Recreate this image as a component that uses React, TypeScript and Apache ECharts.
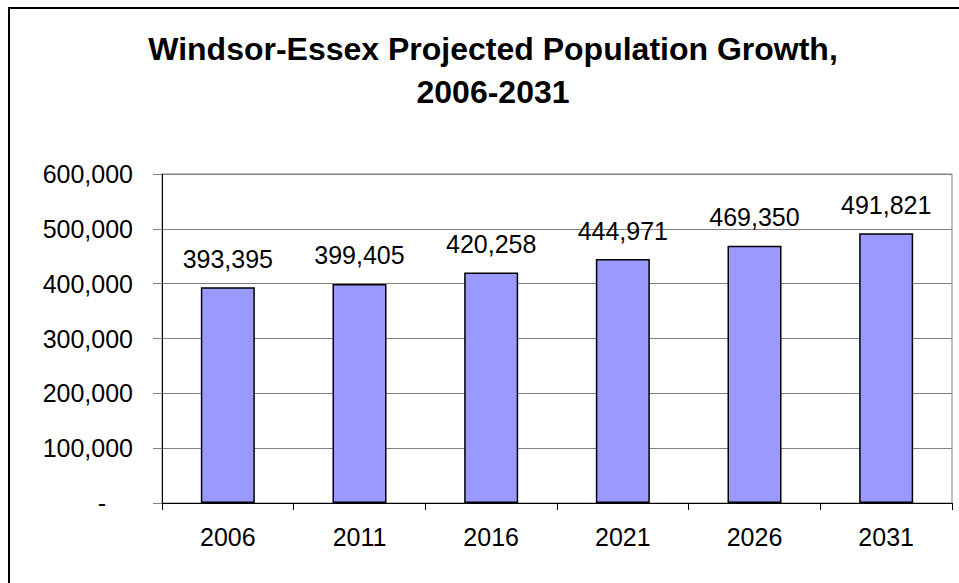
import React, { useEffect, useRef } from "react";
import * as echarts from "echarts";

const titleLines = ["Windsor-Essex Projected Population Growth,", "2006-2031"];
const years = ["2006", "2011", "2016", "2021", "2026", "2031"];
const population = [393395, 399405, 420258, 444971, 469350, 491821];
const yMin = 0;
const yMax = 600000;
const yStep = 100000;

const FONT = "Arial, 'Liberation Sans', sans-serif";
const fmt = (v: number) => v.toLocaleString("en-US");

export default function App() {
  const ref = useRef<HTMLDivElement>(null);
  useEffect(() => {
    if (!ref.current) return;
    const chart = echarts.init(ref.current, undefined, { renderer: "svg" });
    chart.setOption({
      animation: false,
      backgroundColor: "#ffffff",
      title: {
        text: titleLines.join("\n"),
        left: 488,
        top: 22,
        textAlign: "center",
        textStyle: {
          fontFamily: FONT,
          fontSize: 32,
          fontWeight: "bold",
          color: "#000",
          lineHeight: 43,
        },
      },
      graphic: [
        {
          type: "rect",
          shape: { x: 9, y: 8, width: 1000, height: 700 },
          style: { fill: "none", stroke: "#000", lineWidth: 2 },
          silent: true,
          z: 100,
        },
      ],
      grid: {
        left: 162,
        right: 7,
        top: 174,
        bottom: 80,
        show: true,
        borderColor: "#808080",
        borderWidth: 1,
        containLabel: false,
      },
      xAxis: {
        type: "category",
        data: years,
        axisLine: { show: true, lineStyle: { color: "#000", width: 1 } },
        axisTick: { show: true, length: 7, lineStyle: { color: "#000" } },
        axisLabel: {
          margin: 21,
          fontFamily: FONT,
          fontSize: 25,
          color: "#000",
        },
        splitLine: { show: false },
      },
      yAxis: {
        type: "value",
        min: yMin,
        max: yMax,
        interval: yStep,
        axisLine: { show: true, lineStyle: { color: "#000", width: 1 } },
        axisTick: { show: true, length: 9, lineStyle: { color: "#808080" } },
        axisLabel: {
          margin: 29,
          fontFamily: FONT,
          fontSize: 25,
          color: "#000",
          formatter: (v: number) => (v === 0 ? "{d|-}" : fmt(v)),
          rich: {
            d: {
              fontFamily: FONT,
              fontSize: 25,
              color: "#000",
              padding: [0, 27, 0, 0],
            },
          },
        },
        splitLine: { show: true, lineStyle: { color: "#808080", width: 1 } },
      },
      series: [
        {
          type: "bar",
          data: population,
          barWidth: 54,
          itemStyle: { color: "#9999FF", borderColor: "#000", borderWidth: 1.5 },
          label: {
            show: true,
            position: "top",
            distance: 16,
            fontFamily: FONT,
            fontSize: 25,
            color: "#000",
            formatter: (p: any) => fmt(p.value),
          },
        },
      ],
    });
    return () => chart.dispose();
  }, []);
  return (
    <div
      ref={ref}
      style={{ position: "absolute", left: 0, top: 0, width: 959, height: 583 }}
    />
  );
}
